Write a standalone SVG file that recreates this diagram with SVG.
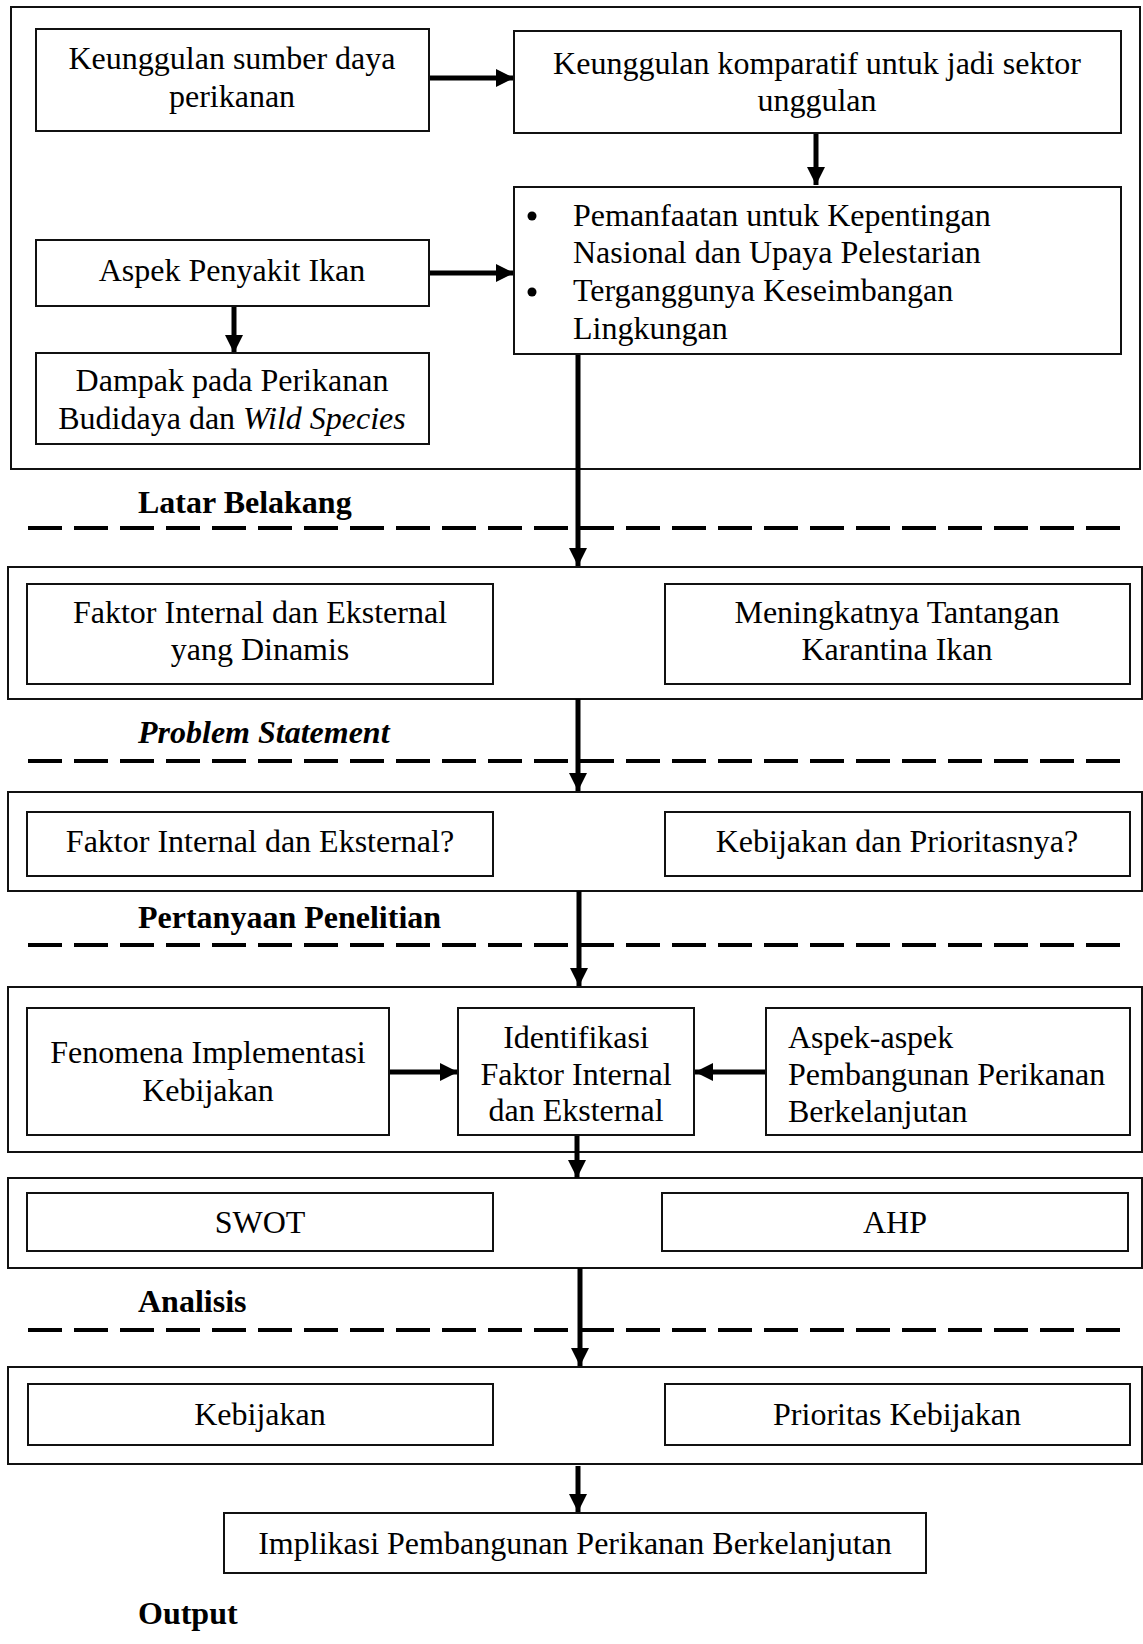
<svg xmlns="http://www.w3.org/2000/svg" width="1143" height="1644" viewBox="0 0 1143 1644">
<style>
.bx{fill:#fff;stroke:#111;stroke-width:2}
.ob{fill:none;stroke:#111;stroke-width:2}
.t{font-family:"Liberation Serif","Times New Roman",serif;font-size:32px;fill:#000}
.c{text-anchor:middle}
.lb{font-family:"Liberation Serif","Times New Roman",serif;font-size:32px;font-weight:bold;fill:#000}
.sh{stroke:#000;stroke-width:5;fill:none}
.ds{stroke:#000;stroke-width:4;stroke-dasharray:34 12;fill:none}
</style>
<defs>
<marker id="ah" markerUnits="userSpaceOnUse" markerWidth="20" markerHeight="20" viewBox="0 0 20 20" refX="18" refY="10" orient="auto">
<path d="M0,1 L18,10 L0,19 Z" fill="#000"/>
</marker>
</defs>
<g id="sections">
<rect class="ob" x="11" y="7" width="1129" height="462"/>
<rect class="ob" x="8" y="567" width="1134" height="132"/>
<rect class="ob" x="8" y="792" width="1134" height="99"/>
<rect class="ob" x="8" y="987" width="1134" height="165"/>
<rect class="ob" x="8" y="1178" width="1134" height="90"/>
<rect class="ob" x="8" y="1367" width="1134" height="97"/>
</g>
<g id="dividers">
<line class="ds" x1="28" y1="528" x2="1130" y2="528"/>
<line class="ds" x1="28" y1="761" x2="1130" y2="761"/>
<line class="ds" x1="28" y1="945" x2="1130" y2="945"/>
<line class="ds" x1="28" y1="1330" x2="1130" y2="1330"/>
</g>
<g id="labels">
<text class="lb" x="138" y="513">Latar Belakang</text>
<text class="lb" x="138" y="743" font-style="italic">Problem Statement</text>
<text class="lb" x="138" y="928">Pertanyaan Penelitian</text>
<text class="lb" x="138" y="1312">Analisis</text>
<text class="lb" x="138" y="1624">Output</text>
</g>
<g id="connectors">
<line class="sh" x1="429" y1="78" x2="514" y2="78" marker-end="url(#ah)"/>
<line class="sh" x1="816" y1="133" x2="816" y2="185" marker-end="url(#ah)"/>
<line class="sh" x1="429" y1="273" x2="514" y2="273" marker-end="url(#ah)"/>
<line class="sh" x1="234" y1="306" x2="234" y2="353" marker-end="url(#ah)"/>
<line class="sh" x1="578" y1="354" x2="578" y2="566" marker-end="url(#ah)"/>
<line class="sh" x1="578" y1="699" x2="578" y2="791" marker-end="url(#ah)"/>
<line class="sh" x1="579" y1="891" x2="579" y2="986" marker-end="url(#ah)"/>
<line class="sh" x1="389" y1="1072" x2="458" y2="1072" marker-end="url(#ah)"/>
<line class="sh" x1="766" y1="1072" x2="695" y2="1072" marker-end="url(#ah)"/>
<line class="sh" x1="577" y1="1136" x2="577" y2="1178" marker-end="url(#ah)"/>
<line class="sh" x1="580" y1="1268" x2="580" y2="1366" marker-end="url(#ah)"/>
<line class="sh" x1="578" y1="1466" x2="578" y2="1512" marker-end="url(#ah)"/>
</g>
<g id="n1"><rect class="bx" x="36" y="29" width="393" height="102"/>
<text class="t c" x="232" y="69">Keunggulan sumber daya</text>
<text class="t c" x="232" y="107">perikanan</text></g>
<g id="n2"><rect class="bx" x="514" y="31" width="607" height="102"/>
<text class="t c" x="817" y="74">Keunggulan komparatif untuk jadi sektor</text>
<text class="t c" x="817" y="111">unggulan</text></g>
<g id="n3"><rect class="bx" x="36" y="240" width="393" height="66"/>
<text class="t c" x="232" y="281">Aspek Penyakit Ikan</text></g>
<g id="n4"><rect class="bx" x="514" y="187" width="607" height="167"/>
<circle cx="532" cy="216" r="4.5" fill="#000"/>
<circle cx="532" cy="292" r="4.5" fill="#000"/>
<text class="t" x="573" y="226">Pemanfaatan untuk Kepentingan</text>
<text class="t" x="573" y="263">Nasional dan Upaya Pelestarian</text>
<text class="t" x="573" y="301">Terganggunya Keseimbangan</text>
<text class="t" x="573" y="339">Lingkungan</text></g>
<g id="n5"><rect class="bx" x="36" y="353" width="393" height="91"/>
<text class="t c" x="232" y="391">Dampak pada Perikanan</text>
<text class="t c" x="232" y="429">Budidaya dan <tspan font-style="italic">Wild Species</tspan></text></g>
<g id="n6"><rect class="bx" x="27" y="584" width="466" height="100"/>
<text class="t c" x="260" y="623">Faktor Internal dan Eksternal</text>
<text class="t c" x="260" y="660">yang Dinamis</text></g>
<g id="n7"><rect class="bx" x="665" y="584" width="465" height="100"/>
<text class="t c" x="897" y="623">Meningkatnya Tantangan</text>
<text class="t c" x="897" y="660">Karantina Ikan</text></g>
<g id="n8"><rect class="bx" x="27" y="812" width="466" height="64"/>
<text class="t c" x="260" y="852">Faktor Internal dan Eksternal?</text></g>
<g id="n9"><rect class="bx" x="665" y="812" width="465" height="64"/>
<text class="t c" x="897" y="852">Kebijakan dan Prioritasnya?</text></g>
<g id="n10"><rect class="bx" x="27" y="1008" width="362" height="127"/>
<text class="t c" x="208" y="1063">Fenomena Implementasi</text>
<text class="t c" x="208" y="1101">Kebijakan</text></g>
<g id="n11"><rect class="bx" x="458" y="1008" width="236" height="127"/>
<text class="t c" x="576" y="1048">Identifikasi</text>
<text class="t c" x="576" y="1085">Faktor Internal</text>
<text class="t c" x="576" y="1121">dan Eksternal</text></g>
<g id="n12"><rect class="bx" x="766" y="1008" width="364" height="127"/>
<text class="t" x="788" y="1048">Aspek-aspek</text>
<text class="t" x="788" y="1085">Pembangunan Perikanan</text>
<text class="t" x="788" y="1122">Berkelanjutan</text></g>
<g id="n13"><rect class="bx" x="27" y="1193" width="466" height="58"/>
<text class="t c" x="260" y="1233">SWOT</text></g>
<g id="n14"><rect class="bx" x="662" y="1193" width="466" height="58"/>
<text class="t c" x="895" y="1233">AHP</text></g>
<g id="n15"><rect class="bx" x="28" y="1384" width="465" height="61"/>
<text class="t c" x="260" y="1425">Kebijakan</text></g>
<g id="n16"><rect class="bx" x="665" y="1384" width="465" height="61"/>
<text class="t c" x="897" y="1425">Prioritas Kebijakan</text></g>
<g id="n17"><rect class="bx" x="224" y="1513" width="702" height="60"/>
<text class="t c" x="575" y="1554">Implikasi Pembangunan Perikanan Berkelanjutan</text></g>
</svg>
